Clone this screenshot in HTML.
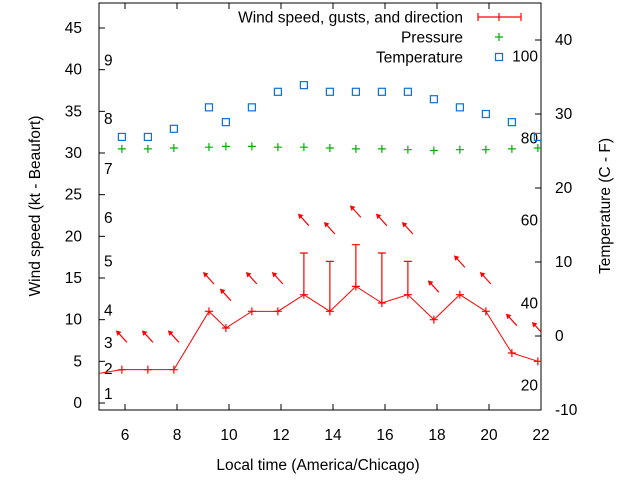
<!DOCTYPE html>
<html><head><meta charset="utf-8"><style>
html,body{margin:0;padding:0;background:#fff}
svg{display:block;font-family:"Liberation Sans",sans-serif}
</style></head><body>
<svg id="c" width="640" height="480" viewBox="0 0 640 480"></svg>
<script>
const hours=[5.88,6.88,7.88,9.23,9.88,10.88,11.88,12.88,13.88,14.88,15.88,16.88,17.88,18.88,19.88,20.88,21.88];
const windKt=[4,4,4,11,9,11,11,13,11,14,12,13,10,13,11,6,5];
const gustKt=[null,null,null,null,null,null,null,18,17,19,18,17,null,null,null,null,null];
const arrowY=[8,8,8,15,13,15,15,22,21,23,22,21,14,17,15,10,9];
const tempC=[26.9,26.9,28,30.9,28.9,30.9,33,33.9,33,33,33,33,32,30.9,30,28.9,26.9];
const pressure=[30.5,30.5,30.6,30.7,30.8,30.8,30.7,30.7,30.6,30.5,30.5,30.4,30.3,30.4,30.4,30.5,30.6];
const xTicks=[6,8,10,12,14,16,18,20,22];
const yTicks=[0,5,10,15,20,25,30,35,40,45];
const y2Ticks=[-10,0,10,20,30,40];
const beaufort=[[1,1.1],[2,4.1],[3,7.2],[4,11.1],[5,17.0],[6,22.2],[7,28.1],[8,34.1],[9,41.1]];
const fahr=[[20,-6.7],[40,4.4],[60,15.6],[80,26.7],[100,37.8]];

const FS=15.5;
const L=99,R=541,T=3,B=410;
const X=h=>L+(h-5)*26;
const Y=v=>403-v*8.333;
const Y2=c=>410-(c+10)*7.4;
const svg=document.getElementById('c');
const NS='http://www.w3.org/2000/svg';
function mk(tag,attrs,parent){const e=document.createElementNS(NS,tag);for(const k in attrs)e.setAttribute(k,attrs[k]);(parent||svg).appendChild(e);return e;}
function txt(x,y,s,anchor,size){const t=mk('text',{x:x,y:y,'text-anchor':anchor||'middle','font-size':size||FS,fill:'#000'});t.textContent=s;return t;}

const defs=mk('defs',{});
const cp=mk('clipPath',{id:'pc'},defs);mk('rect',{x:L,y:T,width:R-L,height:B-T},cp);

const fr=mk('rect',{x:L,y:T,width:R-L,height:B-T,fill:'none',stroke:'#000','stroke-width':1});


xTicks.forEach(h=>{
  const x=X(h);
  mk('line',{x1:x,y1:B,x2:x,y2:B-6,stroke:'#000'});
  mk('line',{x1:x,y1:T,x2:x,y2:T+6,stroke:'#000'});
  const t=txt(x,440,String(h));
  
  
});
yTicks.forEach(v=>{
  const y=Y(v);
  mk('line',{x1:L,y1:y,x2:L+6,y2:y,stroke:'#000'});
  const t=txt(82,y+5,String(v),'end');
  
  
});
y2Ticks.forEach(c=>{
  const y=Y2(c);
  mk('line',{x1:R,y1:y,x2:R-6,y2:y,stroke:'#000'});
  const t=txt(555,y+5,String(c),'start');
  
  
});
beaufort.forEach(b=>{
  const t=txt(104,Y(b[1])+5,String(b[0]),'start');
  
  
});
fahr.forEach(f=>{
  const t=txt(538,Y2(f[1])+5,String(f[0]),'end');
  
  
});

const g=mk('g',{'clip-path':'url(#pc)'});
hours.forEach((h,i)=>{
  const x=X(h),y=Y(pressure[i]);
  const p=mk('path',{d:`M${x-4},${y}h8M${x},${y-4}v8`,stroke:'#00b000','stroke-width':1.2},g);
  
  
});
hours.forEach((h,i)=>{
  const x=X(h),y=Y2(tempC[i]);
  const r=mk('rect',{x:x-3.5,y:y-3.5,width:7,height:7,fill:'none',stroke:'#0a70e0','stroke-width':1.2},g);
  
  
});
let d=`M${X(4.9)},${Y(3.5)}`;
hours.forEach((h,i)=>{d+=`L${X(h)},${Y(windKt[i])}`;});
const wl=mk('path',{d:d,fill:'none',stroke:'#f00','stroke-width':1},g);


hours.forEach((h,i)=>{
  const x=X(h),y=Y(windKt[i]);
  const p=mk('path',{d:`M${x-4},${y}h8M${x},${y-4}v8`,stroke:'#f00','stroke-width':1.2},g);
  
  
  if(gustKt[i]!=null){
    const gy=Y(gustKt[i]);
    const e=mk('path',{d:`M${x},${y}V${gy}M${x-4},${gy}h8`,stroke:'#f00','stroke-width':1.2},g);
    
    
  }
  const ay=Y(arrowY[i]);
  const a=mk('g',{transform:`translate(${x},${ay})`},g);
  
  
  mk('line',{x1:5,y1:6,x2:-4,y2:-4,stroke:'#f00','stroke-width':1.2},a);
  mk('path',{d:'M-6,-6L-0.5,-4.5L-4.5,-0.5Z',fill:'#f00'},a);
});

const lg=mk('g',{});


[['Wind speed, gusts, and direction',22.5],['Pressure',42.5],['Temperature',62.5]].forEach((l,i)=>{
  const t=txt(463,l[1],l[0],'end');
  
  
});
mk('path',{d:'M478,17H521M478,13v8M499,13v8M521,13v8',stroke:'#f00','stroke-width':1.2},lg);
mk('path',{d:'M495,37h8M499,33v8',stroke:'#00b000','stroke-width':1.2},lg);
mk('rect',{x:495.5,y:53.5,width:7,height:7,fill:'none',stroke:'#0a70e0','stroke-width':1.2},lg);

const xt=txt(318,470,'Local time (America/Chicago)');

const yt=txt(0,0,'Wind speed (kt - Beaufort)');yt.setAttribute('transform','translate(40,206) rotate(-90)');

const y2t=txt(0,0,'Temperature (C - F)');y2t.setAttribute('transform','translate(610,206) rotate(-90)');

</script>
</body></html>
